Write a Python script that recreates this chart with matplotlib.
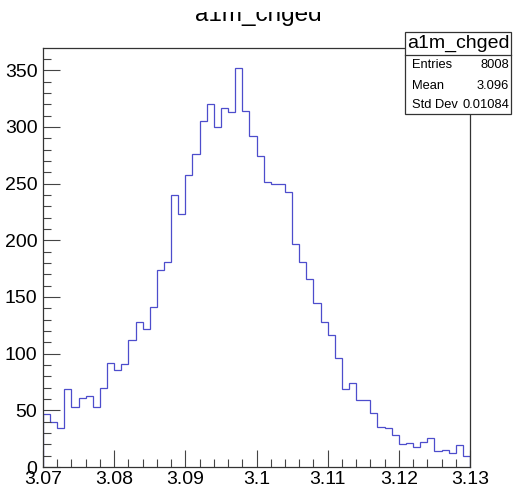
import numpy as np
import matplotlib
matplotlib.use('Agg')
import matplotlib.pyplot as plt
from matplotlib.ticker import MultipleLocator, FuncFormatter
from matplotlib.patches import Rectangle
from matplotlib.transforms import Bbox

plt.rcParams['font.family'] = ['Liberation Sans', 'DejaVu Sans']

# histogram a1m_chged: 60 bins from 3.07 to 3.13
hist_name = 'a1m_chged'
bin_lo = 3.07
bin_hi = 3.13
counts = [47, 40, 34, 69, 53, 61, 63, 53, 70, 92,
          86, 91, 112, 128, 122, 141, 174, 181, 240, 223,
          258, 276, 305, 320, 300, 317, 313, 352, 314, 292,
          274, 251, 250, 250, 243, 197, 181, 166, 145, 128,
          116, 96, 69, 74, 59, 59, 48, 35, 34, 28,
          20, 21, 18, 22, 26, 14, 15, 12, 19, 10]
stat_names = ['Entries', 'Mean', 'Std Dev']
stat_values = ['8008', '3.096', '0.01084']

W, H = 516, 490
fig = plt.figure(figsize=(W / 100, H / 100), dpi=100)
fig.patch.set_facecolor('white')

# frame in pixels: left 43, right 470, top 48, bottom 467
ax = fig.add_axes([43 / W, 1 - 467 / H, (470 - 43) / W, (467 - 48) / H])

edges = np.linspace(bin_lo, bin_hi, len(counts) + 1)
ax.stairs(counts, edges, color='#4d4dcc', linewidth=0.9)

ax.set_xlim(bin_lo, bin_hi)
ax.set_ylim(0, max(counts) * 1.05)

ax.xaxis.set_major_locator(MultipleLocator(0.01))
ax.xaxis.set_minor_locator(MultipleLocator(0.002))
ax.yaxis.set_major_locator(MultipleLocator(50))
ax.yaxis.set_minor_locator(MultipleLocator(10))
ax.xaxis.set_major_formatter(FuncFormatter(lambda v, p: f'{v:g}'))
ax.yaxis.set_major_formatter(FuncFormatter(lambda v, p: f'{v:g}'))

ax.tick_params(which='both', direction='in', top=False, right=False,
               labelsize=14, color='#444444')
ax.tick_params(which='major', length=12, width=0.8)
ax.tick_params(which='minor', length=6, width=0.8)
ax.tick_params(axis='x', pad=3)
ax.tick_params(axis='y', pad=4)
for s in ax.spines.values():
    s.set_linewidth(0.9)
    s.set_color('#333333')

# title: its upper part is cut off in the reference
title = fig.text(0.5, 1 - 21.5 / H, hist_name, ha='center', va='baseline',
                 fontsize=17.5)
title.set_clip_box(Bbox.from_extents(0, 0, W, H - 12))
title.set_clip_on(True)

# stats box
bx0, bx1, by0, by1, byt = 405, 511, 32, 114, 55
fig.add_artist(Rectangle((bx0 / W, 1 - by1 / H), (bx1 - bx0) / W, (by1 - by0) / H,
                         transform=fig.transFigure, facecolor='white',
                         edgecolor='#333333', linewidth=0.9, zorder=5))
fig.add_artist(plt.Line2D([bx0 / W, bx1 / W], [1 - byt / H, 1 - byt / H],
                          transform=fig.transFigure, color='#333333',
                          linewidth=0.9, zorder=6))
fig.text((bx0 + bx1) / 2 / W, 1 - (by0 + byt) / 2 / H, hist_name,
         ha='center', va='center', fontsize=14, zorder=7)
row_y = [65.5, 86, 105.5]
for name, val, yy in zip(stat_names, stat_values, row_y):
    fig.text((bx0 + 7) / W, 1 - yy / H, name, ha='left', va='center',
             fontsize=9.3, zorder=7)
    fig.text((bx1 - 2) / W, 1 - yy / H, val, ha='right', va='center',
             fontsize=9.3, zorder=7)

fig.savefig('out.png', dpi=100)
